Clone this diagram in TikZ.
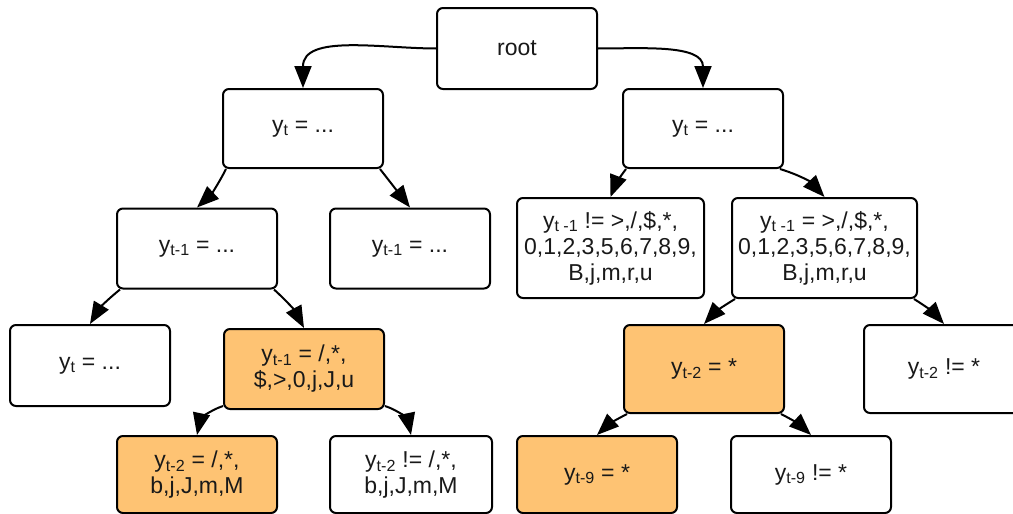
\documentclass[tikz,border=0pt]{standalone}
\usepackage{fontspec}
\setmainfont{Liberation Sans}
\usepackage{xcolor}
\usetikzlibrary{positioning,arrows.meta}
\definecolor{hitorange}{RGB}{254,195,115}

\begin{document}
\begin{tikzpicture}[x=1pt, y=-1pt, ->, >={Triangle[length=22pt,width=17pt]}, line width=2pt,
	cond/.style={rectangle, rounded corners=6pt, draw, fill=white, minimum width=160pt, minimum height=80pt,
		align=center, text=black!90, font=\fontsize{23}{26}\selectfont},
	hit/.style={cond, fill=hitorange}]
	\useasboundingbox (0,0) rectangle (1013,514);
	\clip (0,0) rectangle (1013,514);

	\node[cond] (root) at (517,48.5) [minimum height=81pt]                {root};
	\node[cond] (t1) at (303,128.5) [minimum height=79pt]                 {y\textsubscript{t} = ...};
	\node[cond] (t2) [minimum height=79pt, right=238pt of t1]             {y\textsubscript{t} = ...};

	\node[cond] (u1) at (197,248.5)                                       {y\textsubscript{t-1} = ...};
	\node[cond] (u2) [right=51pt of u1]                                   {y\textsubscript{t-1} = ...};
	\node[cond] (u3) at (610.5,248) [minimum width=187pt, minimum height=100pt]
		{y\textsubscript{t -1} != >,/,\$,*,\\0,1,2,3,5,6,7,8,9,\\B,j,m,r,u};
	\node[cond] (u4) [minimum width=185pt, minimum height=100pt, right=26pt of u3]
		{y\textsubscript{t -1} = >,/,\$,*,\\0,1,2,3,5,6,7,8,9,\\B,j,m,r,u};

	\node[cond] (v1) at (90,365.5) [minimum height=81pt]                  {y\textsubscript{t} = ...};
	\node[hit]  (v2) at (304,369)                                         {y\textsubscript{t-1} = /,*,\\\$,>,0,j,J,u};
	\node[hit]  (v3) at (704,369) [minimum height=88pt]                   {y\textsubscript{t-2} = *};
	\node[cond] (v4) [minimum height=88pt, right=78pt of v3]              {y\textsubscript{t-2} != *};

	\node[hit]  (w1) at (197,474.5) [minimum height=77pt]                 {y\textsubscript{t-2} = /,*,\\b,j,J,m,M};
	\node[cond] (w2) [minimum width=162pt, minimum height=77pt, right=51pt of w1] {y\textsubscript{t-2} != /,*,\\b,j,J,m,M};
	\node[hit]  (w3) at (597,474.5) [minimum height=77pt]                 {y\textsubscript{t-9} = *};
	\node[cond] (w4) [minimum height=77pt, right=52pt of w3]              {y\textsubscript{t-9} != *};

	\path (root.west) edge[out=180, in=90] (t1.north)
	(root.east) edge[out=0, in=90] (t2.north)
	([xshift=4pt]t1.south west) edge[bend left=10] (u1.north)
	([xshift=-4pt]t1.south east) edge (u2.north)
	([xshift=4pt]t2.south west) edge[bend right=8] (u3.north)
	([xshift=-4pt]t2.south east) edge[bend left=15] (u4.north)
	([xshift=4pt]u1.south west) edge[bend right=10] (v1.north)
	([xshift=-4pt]u1.south east) edge[bend left=10] (v2.north)
	([xshift=4pt]u4.south west) edge[bend right=8] (v3.north)
	([xshift=-4pt]u4.south east) edge[bend left=8] (v4.north)
	([yshift=4pt]v2.south west) edge[bend right=30] (w1.north)
	([yshift=4pt]v2.south east) edge[bend left=30] (w2.north)
	([xshift=4pt]v3.south west) edge[bend right=8] (w3.north)
	([xshift=-4pt]v3.south east) edge[bend left=8] (w4.north);
\end{tikzpicture}
\end{document}
